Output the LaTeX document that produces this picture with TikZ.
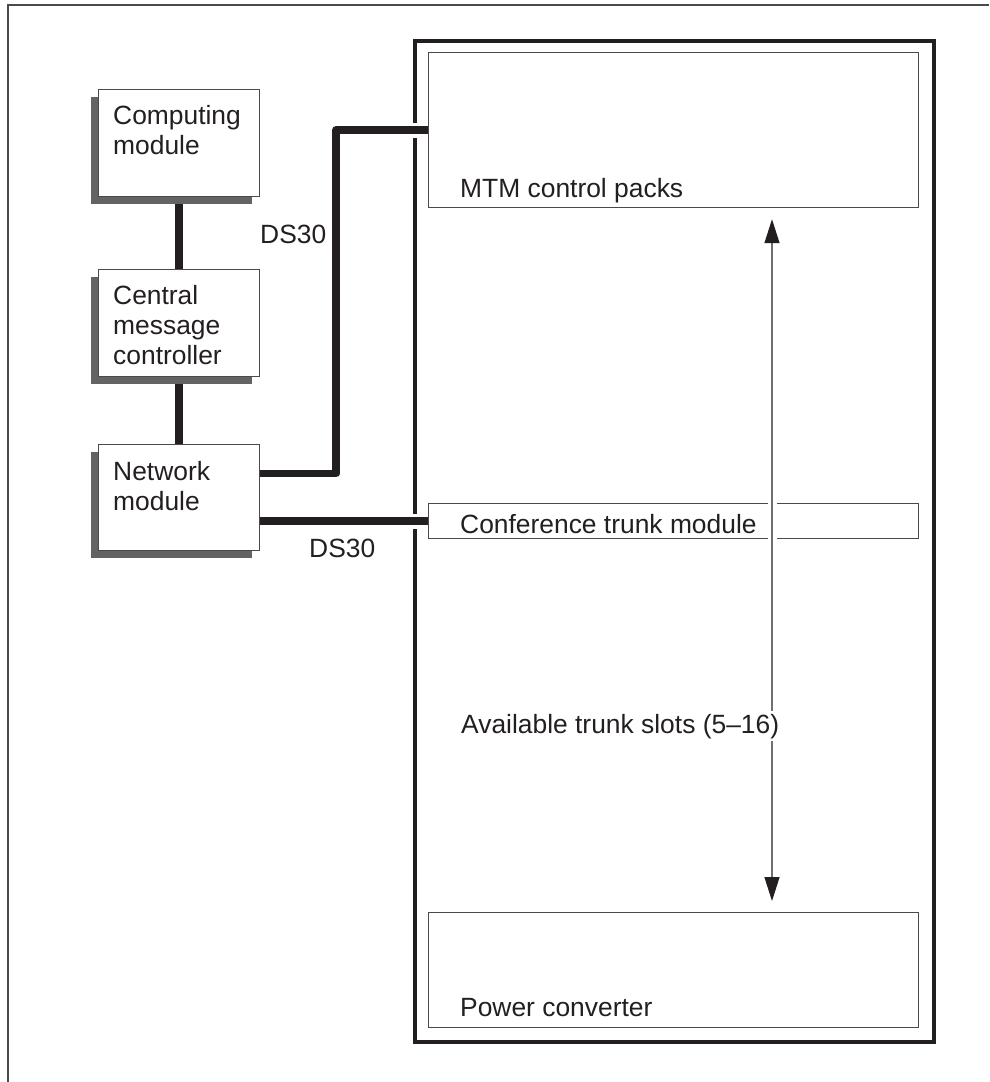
\documentclass[tikz,border=0pt]{standalone}
\usepackage{fontspec}
\setmainfont{Liberation Sans}
\usetikzlibrary{arrows.meta,shadows,backgrounds}
\definecolor{ink}{HTML}{231F20}
\definecolor{edge}{HTML}{4A4A4A}
\definecolor{shade}{HTML}{636363}
\definecolor{arrline}{HTML}{707070}
\begin{document}
\begin{tikzpicture}[x=1pt,y=-1pt,
  lbox/.style={draw=edge, line width=1.3pt, fill=white, inner sep=0pt, anchor=north west,
    minimum width=161pt,
    drop shadow={shadow xshift=-7.5pt, shadow yshift=-7.5pt, fill=shade, opacity=1}},
  ibox/.style={draw=edge, line width=1.2pt, fill=white, inner sep=0pt, anchor=north west, minimum width=490pt},
  framebox/.style={draw=ink, line width=3.5pt, inner sep=0pt, anchor=north west},
  vlink/.style={draw=ink, line width=7.5pt},
  conn/.style={draw=ink, line width=7.5pt, line join=round,
    preaction={draw=white, line width=15pt}},
  arr/.style={draw=arrline, line width=1.3pt,
    {Triangle[width=15pt,length=24pt,color=ink]}-{Triangle[width=15pt,length=24pt,color=ink]},
    preaction={draw=white, line width=9pt, -}},
  txt/.style={anchor=base west, inner sep=0pt, text=ink, font=\fontsize{26.4}{30}\selectfont}
]
\useasboundingbox (0,0) rectangle (989,1082);
% outer border (top and left only visible)
\draw[draw=edge, line width=1.5pt] (8,1082) -- (8,5) -- (989,5);
% main shelf frame
\node[framebox, minimum width=519pt, minimum height=1001pt] (fr) at (413,39) {};
\coordinate (bend) at (336,300);
\coordinate (ax) at (772,0);
% boxes
\node[lbox, minimum height=107pt] (cm) at (98,89) {};
\node[lbox, minimum height=107pt] (cmc) at (98,269) {};
\node[lbox, minimum height=106pt] (nm) at (98,444) {};
\node[ibox, minimum height=155pt] (mtm) at (428,52) {};
\node[ibox, minimum height=35pt] (ctm) at (428,503) {};
\node[ibox, minimum height=115pt] (pc) at (428,912) {};
% links between left boxes, behind the boxes and their shadows
\begin{pgfonlayer}{background}
\draw[vlink] (cm.south) -- (cmc.north);
\draw[vlink] (cmc.south) -- (nm.north);
\end{pgfonlayer}
% DS30 links
\draw[conn] ([yshift=24pt]nm.east) -| (bend) |- (mtm.west);
\draw[conn] (nm.east |- ctm.west) -- (ctm.west);
% range arrow
\draw[arr, shorten <=11pt, shorten >=11pt] (mtm.south -| ax) -- (pc.north -| ax);
% labels
\node[txt] (tcm) at (113,124) {\vtop{\hbox{Computing}\hbox{module}}};
\node[txt] (tcmc) at (113,304) {\vtop{\hbox{Central}\hbox{message}\hbox{controller}}};
\node[txt] (tnm) at (113,480) {\vtop{\hbox{Network}\hbox{module}}};
\node[txt] (ds1) at (260,243) {DS30};
\node[txt] (ds2) at (309,557) {DS30};
\node[txt] (tmtm) at (460,197) {MTM control packs};
\node[txt] (tctm) at (460,533) {Conference trunk module};
\node[txt, fill=white, inner sep=3pt] (tav) at (458,733) {Available trunk slots (5–16)};
\node[txt] (tpc) at (460,1016) {Power converter};
\end{tikzpicture}
\end{document}
